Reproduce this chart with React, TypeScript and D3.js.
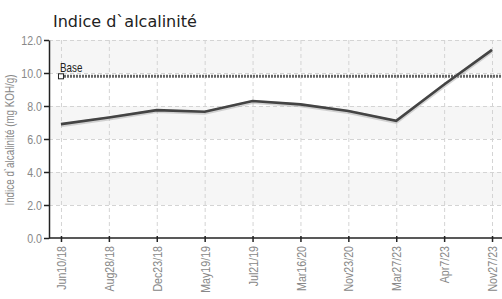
import { useEffect, useRef } from 'react'
import * as d3 from 'd3'

const categories = ['Jun10/18', 'Aug28/18', 'Dec23/18', 'May19/19', 'Jul21/19', 'Mar16/20', 'Nov23/20', 'Mar27/23', 'Apr7/23', 'Nov27/23']
const values = [6.9, 7.3, 7.75, 7.65, 8.3, 8.1, 7.7, 7.1, 9.3, 11.4]
const baseValue = 9.8
const yTicks = [0, 2, 4, 6, 8, 10, 12]

export default function App() {
  const svgRef = useRef<SVGSVGElement>(null)

  useEffect(() => {
    if (!svgRef.current) return
    const svg = d3.select(svgRef.current)
    svg.selectAll('*').remove()

    const width = 502
    const height = 299
    const left = 49
    const right = 504
    const top = 40
    const bottom = 238
    // narrow look: regular sans squeezed horizontally
    const font = "'Liberation Sans', Arial, sans-serif"
    const squeeze = 0.82

    const x = d3.scalePoint<string>().domain(categories).range([left, right]).padding(0.25)
    const y = d3.scaleLinear().domain([0, 12]).range([bottom, top])

    svg.attr('width', width).attr('height', height)

    // alternating bands
    const bands = [[2, 4], [6, 8], [10, 12]]
    svg.append('g').selectAll('rect').data(bands).enter().append('rect')
      .attr('x', left).attr('width', width - left)
      .attr('y', d => y(d[1])).attr('height', d => y(d[0]) - y(d[1]))
      .attr('fill', '#f6f6f6')

    // grid
    const grid = svg.append('g').attr('stroke', '#d4d4d4').attr('stroke-dasharray', '4,3').attr('stroke-width', 1)
    grid.selectAll('line.h').data(yTicks.slice(1)).enter().append('line')
      .attr('x1', left).attr('x2', width).attr('y1', d => y(d) + 0.5).attr('y2', d => y(d) + 0.5)
    grid.selectAll('line.v').data(categories).enter().append('line')
      .attr('x1', d => x(d)! + 0.5).attr('x2', d => x(d)! + 0.5).attr('y1', top).attr('y2', bottom)

    // base line
    svg.append('line')
      .attr('x1', x(categories[0])!).attr('x2', width)
      .attr('y1', y(baseValue)).attr('y2', y(baseValue))
      .attr('stroke', '#666').attr('stroke-width', 3).attr('stroke-dasharray', '2,1')
    svg.append('rect')
      .attr('x', x(categories[0])! - 2.5).attr('y', y(baseValue) - 2.5)
      .attr('width', 5).attr('height', 5)
      .attr('fill', '#fff').attr('stroke', '#222').attr('stroke-width', 1)
    svg.append('text')
      .attr('transform', `translate(${x(categories[0])! - 1},${y(baseValue) - 4}) scale(${squeeze},1)`)
      .attr('font-family', font).attr('font-size', 12).attr('fill', '#222')
      .text('Base')

    // data line
    const line = d3.line<number>().x((_, i) => x(categories[i])!).y(d => y(d))
    svg.append('path').datum(values)
      .attr('d', line).attr('fill', 'none')
      .attr('stroke', '#aaa').attr('stroke-width', 4).attr('opacity', 0.5)
      .attr('transform', 'translate(0,1)')
    svg.append('path').datum(values)
      .attr('d', line).attr('fill', 'none')
      .attr('stroke', '#444').attr('stroke-width', 2.6)

    // axes
    const yAxis = svg.append('g').attr('transform', `translate(${left},0)`)
      .call(d3.axisLeft(y).tickValues(yTicks).tickFormat(d3.format('.1f')).tickSize(5).tickSizeOuter(0))
    yAxis.select('.domain').attr('stroke', '#222').attr('stroke-width', 1.5)
    yAxis.selectAll('.tick line').attr('stroke', '#222').attr('stroke-width', 1.5)
    yAxis.selectAll('.tick text')
      .attr('font-family', font).attr('font-size', 13).attr('fill', '#888')
      .attr('x', 0).attr('transform', `translate(-7,0) scale(${squeeze},1)`)

    const xAxis = svg.append('g').attr('transform', `translate(0,${bottom})`)
      .call(d3.axisBottom(x).tickSize(4).tickSizeOuter(0))
    xAxis.select('.domain').attr('stroke', '#222').attr('stroke-width', 1.5).attr('d', `M${left},0H${width}`)
    xAxis.selectAll('.tick line').attr('stroke', '#222').attr('stroke-width', 1.5).attr('y1', -2)
    xAxis.selectAll('.tick text')
      .attr('font-family', font).attr('font-size', 13).attr('fill', '#888')
      .attr('transform', `rotate(-90) translate(-8,0) scale(${squeeze},1)`).attr('text-anchor', 'end')
      .attr('x', 0).attr('y', 0).attr('dy', '0.35em')

    // y axis title
    svg.append('text')
      .attr('transform', `translate(14,${(top + bottom) / 2 + 1}) rotate(-90) scale(${squeeze},1)`)
      .attr('text-anchor', 'middle')
      .attr('font-family', font).attr('font-size', 12).attr('fill', '#888')
      .text('Indice d`alcalinité (mg KOH/g)')

    // title
    svg.append('text')
      .attr('x', 53).attr('y', 27)
      .attr('font-family', "'DejaVu Sans', Verdana, sans-serif").attr('font-size', 16).attr('fill', '#222')
      .text('Indice d`alcalinité')
  }, [])

  return (
    <div style={{ position: 'absolute', left: 0, top: 0 }}>
      <svg ref={svgRef} style={{ display: 'block', background: '#fff' }} />
    </div>
  )
}
